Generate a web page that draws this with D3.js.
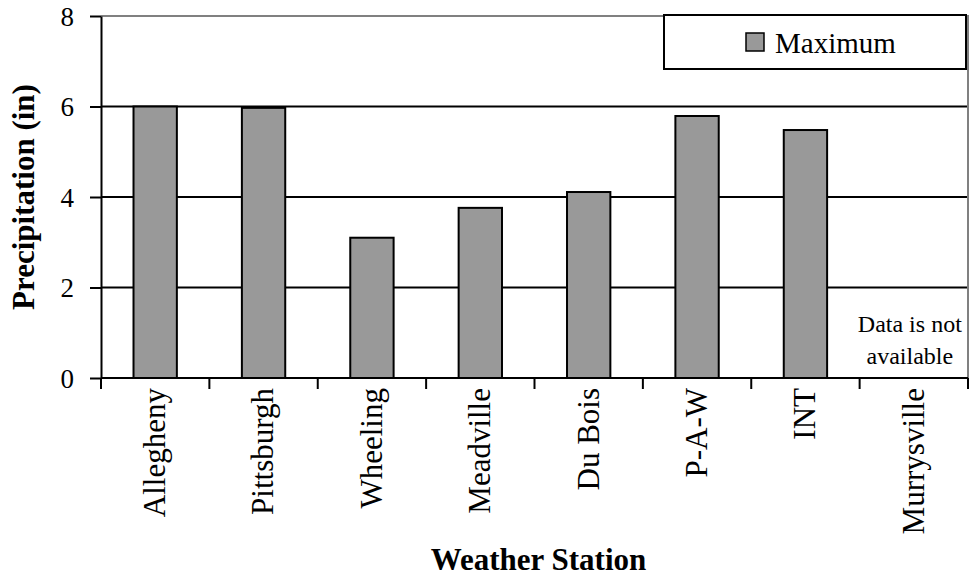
<!DOCTYPE html>
<html>
<head>
<meta charset="utf-8">
<script src="https://cdn.jsdelivr.net/npm/d3@7"></script>
</head>
<body style="margin:0;background:#fff">
<svg id="chart" width="969" height="577" style="display:block"></svg>
<script>
// Maximum precipitation by weather station (inches); Murrysville has no record
const stations = ["Allegheny", "Pittsburgh", "Wheeling", "Meadville", "Du Bois", "P-A-W", "INT", "Murrysville"];
const maximum = [6.0, 5.97, 3.1, 3.76, 4.11, 5.79, 5.48, null];
const yTicks = [0, 2, 4, 6, 8];
const seriesName = "Maximum";
const missingNote = ["Data is not", "available"];

const FONT = "'Liberation Serif'";
const svg = d3.select("#chart");
const m = { left: 101, right: 968, top: 16, bottom: 378 };

const x = d3.scaleBand()
  .domain(stations)
  .range([m.left, m.right])
  .paddingInner(0.6)
  .paddingOuter(0.3);

const y = d3.scaleLinear().domain([0, 8]).range([m.bottom, m.top]);

// horizontal gridlines
svg.append("g")
  .selectAll("line")
  .data(yTicks.filter(d => d > 0 && d < 8))
  .join("line")
  .attr("x1", m.left).attr("x2", m.right)
  .attr("y1", d => y(d)).attr("y2", d => y(d))
  .attr("stroke", "#000").attr("stroke-width", 2);

// top and right frame
svg.append("path")
  .attr("d", `M${m.left},${y(8)}H${m.right}V${m.bottom}`)
  .attr("fill", "none").attr("stroke", "#808080").attr("stroke-width", 2);

// bars
svg.append("g")
  .selectAll("rect")
  .data(stations.map((s, i) => ({ s, v: maximum[i] })).filter(d => d.v != null))
  .join("rect")
  .attr("x", d => x(d.s))
  .attr("width", x.bandwidth())
  .attr("y", d => y(d.v))
  .attr("height", d => y(0) - y(d.v))
  .attr("fill", "#999999")
  .attr("stroke", "#000")
  .attr("stroke-width", 2);

// y axis
const yAxis = svg.append("g")
  .attr("transform", `translate(${m.left},0)`)
  .call(d3.axisLeft(y).tickValues(yTicks).tickSize(11).tickPadding(16).tickSizeOuter(0));
yAxis.select(".domain").attr("stroke", "#000").attr("stroke-width", 2);
yAxis.selectAll(".tick line").attr("stroke", "#000").attr("stroke-width", 2);
yAxis.selectAll(".tick text")
  .attr("font-size", 27).attr("fill", "#000").attr("dy", "0.34em");

// x axis: baseline and ticks at band boundaries
const xAxisG = svg.append("g");
xAxisG.append("line")
  .attr("x1", m.left).attr("x2", m.right)
  .attr("y1", m.bottom).attr("y2", m.bottom)
  .attr("stroke", "#000").attr("stroke-width", 2);
const step = x.step();
xAxisG.selectAll("line.tk")
  .data(stations.map(s => x(s) + x.bandwidth() / 2 - step / 2).concat([m.right]))
  .join("line")
  .attr("class", "tk")
  .attr("x1", d => d).attr("x2", d => d)
  .attr("y1", m.bottom).attr("y2", m.bottom + 11)
  .attr("stroke", "#000").attr("stroke-width", 2);

// category labels, rotated
xAxisG.selectAll("text")
  .data(stations)
  .join("text")
  .attr("transform", d => `translate(${x(d) + x.bandwidth() / 2},${m.bottom + 10}) rotate(-90)`)
  .attr("text-anchor", "end")
  .attr("dy", "0.32em")
  .attr("font-size", 31)
  .text(d => d);

// note for the station without data
const last = stations[stations.length - 1];
svg.append("g")
  .selectAll("text")
  .data(missingNote)
  .join("text")
  .attr("x", x(last) + x.bandwidth() / 2 - 4)
  .attr("y", (d, i) => 332 + i * 32)
  .attr("text-anchor", "middle")
  .attr("font-size", 24)
  .text(d => d);

// axis titles
svg.append("text")
  .attr("transform", `translate(34,${(m.top + m.bottom) / 2}) rotate(-90)`)
  .attr("text-anchor", "middle")
  .attr("font-weight", "bold")
  .attr("font-size", 31)
  .text("Precipitation (in)");

svg.append("text")
  .attr("x", (m.left + m.right) / 2 + 4)
  .attr("y", 570)
  .attr("text-anchor", "middle")
  .attr("font-weight", "bold")
  .attr("font-size", 31)
  .text("Weather Station");

// legend
const lg = svg.append("g");
lg.append("rect")
  .attr("x", 664).attr("y", 15).attr("width", 302).attr("height", 54)
  .attr("fill", "#fff").attr("stroke", "#000").attr("stroke-width", 2);
lg.append("rect")
  .attr("x", 746).attr("y", 33).attr("width", 18).attr("height", 18)
  .attr("fill", "#999999").attr("stroke", "#000").attr("stroke-width", 1.5);
lg.append("text")
  .attr("x", 775).attr("y", 53)
  .attr("font-size", 29)
  .text(seriesName);

// serif face on every text element
svg.selectAll("text").style("font-family", FONT);
</script>
</body>
</html>
